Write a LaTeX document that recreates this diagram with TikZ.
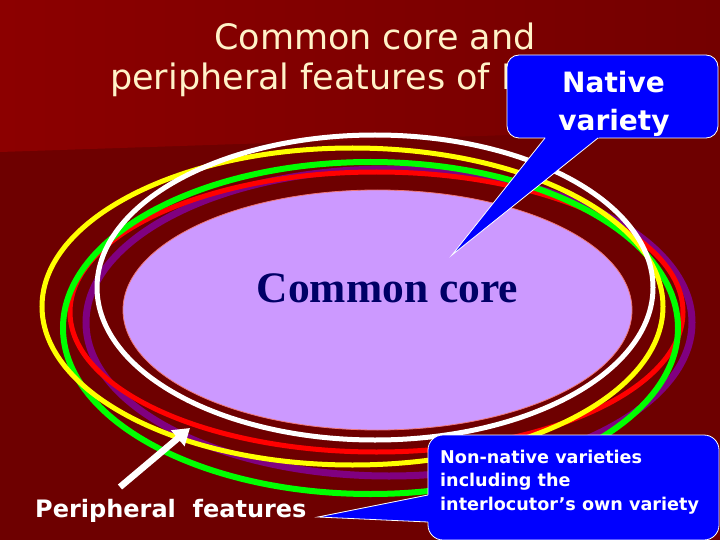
\documentclass[tikz,border=0pt]{standalone}
\usepackage{fontspec}
\setmainfont{DejaVu Sans}
\newfontfamily\timesfont{Liberation Serif}
\usetikzlibrary{arrows.meta}
\definecolor{bgdark}{HTML}{6E0000}
\definecolor{bglight}{HTML}{8C0000}
\definecolor{bgmid}{HTML}{740000}
\definecolor{titlecol}{HTML}{FFF2C8}
\definecolor{corefill}{HTML}{CC99FF}
\definecolor{coreedge}{HTML}{F07878}
\definecolor{navy}{HTML}{000066}
\definecolor{ringpurple}{HTML}{800080}
\definecolor{ringgreen}{HTML}{00FF00}
\definecolor{ringyellow}{HTML}{FFFF00}
\definecolor{ringred}{HTML}{FF0000}
\definecolor{callblue}{HTML}{0000FF}
\begin{document}
\begin{tikzpicture}[x=1pt,y=-1pt,
  ring/.style={line width=5pt},
  callbox/.style={fill=callblue, draw=white, line width=0.8pt},
  calledge/.style={draw=white, line width=0.8pt},
  titletext/.style={text=titlecol, inner sep=0pt, font=\fontsize{35}{42}\selectfont},
  calltext/.style={text=white, inner sep=0pt},
]
\useasboundingbox (0,0) rectangle (720,540);
% background
\fill[bgdark] (0,0) rectangle (720,540);
\shade[left color=bglight, right color=bgmid] (0,0) -- (720,0) -- (720,128) -- (0,152) -- cycle;

% title
\node[titletext, anchor=base] (title1) at (375,50) {Common core and};
\node[titletext, anchor=base west] (title2) at (110,90) {peripheral features of English};

% rings
\draw[ring, ringpurple, line width=7pt] (389,322.5) ellipse [x radius=303pt, y radius=153.5pt];
\draw[ring, ringred] (376.5,312) ellipse [x radius=306.5pt, y radius=140pt];
\draw[ring, ringgreen, line width=6pt] (370.5,328) ellipse [x radius=307.5pt, y radius=166pt];
\draw[ring, ringyellow] (352.5,306.5) ellipse [x radius=310.5pt, y radius=158.5pt];
\draw[ring, white] (375,287.5) ellipse [x radius=278pt, y radius=152.5pt];

% common core
\draw[fill=corefill, draw=coreedge, line width=0.8pt] (377.5,310) ellipse [x radius=254.5pt, y radius=120pt];
\node[anchor=base, text=navy, inner sep=0pt, font=\timesfont\bfseries\fontsize{43.5}{50}\selectfont] (coretext) at (387.5,302) {Common core};

% native variety callout
\draw[callbox, rounded corners=12pt] (507,55) rectangle (718,138);
\coordinate (nattip) at (452,255);
\fill[callblue] (548.2,134) -- (nattip) -- (603,134) -- cycle;
\draw[calledge] (545,138) -- (nattip) -- (598,138);
\node[calltext, anchor=base, font=\bfseries\fontsize{28}{34}\selectfont] (nat1) at (613.5,93) {Native};
\node[calltext, anchor=base, font=\bfseries\fontsize{28}{34}\selectfont] (nat2) at (614,131) {variety};

% non-native callout
\draw[callbox, rounded corners=15pt] (428,435) rectangle (719,540);
\coordinate (nontip) at (318,517);
\fill[callblue] (432,494.2) -- (nontip) -- (432,522.2) -- cycle;
\draw[calledge] (428,495) -- (nontip) -- (428,522);
\node[calltext, anchor=base west, font=\bfseries\fontsize{17.6}{22}\selectfont] (non1) at (440,463) {Non-native varieties};
\node[calltext, anchor=base west, font=\bfseries\fontsize{17.6}{22}\selectfont] (non2) at (440,486.5) {including the};
\node[calltext, anchor=base west, font=\bfseries\fontsize{17.6}{22}\selectfont] (non3) at (440,510) {interlocutor’s own variety};

% peripheral features
\node[calltext, anchor=base west, font=\bfseries\fontsize{24}{29}\selectfont] (periph) at (35,517) {Peripheral\ \ features};
\coordinate (arrtail) at (120,487);
\coordinate (arrtip) at (190,428);
\draw[white, line width=6.5pt, -{Triangle[length=16pt,width=20pt]}] (arrtail) -- (arrtip);
\end{tikzpicture}
\end{document}
